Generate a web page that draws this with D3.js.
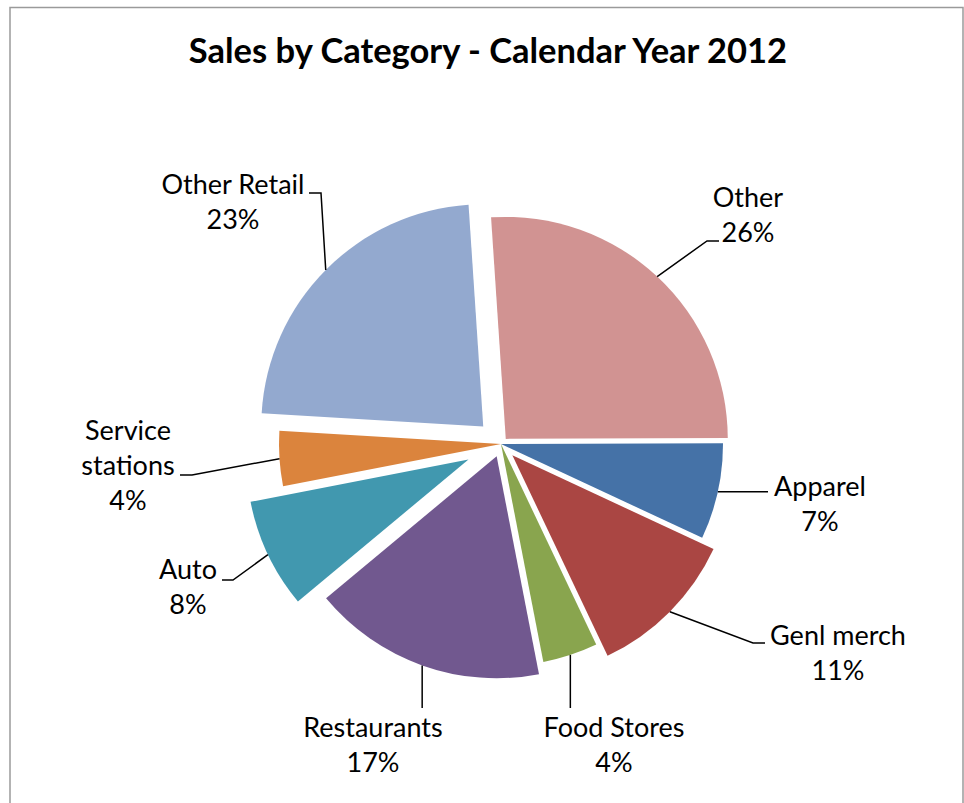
<!DOCTYPE html>
<html>
<head>
<meta charset="utf-8">
<script src="https://cdn.jsdelivr.net/npm/d3@7/dist/d3.min.js"></script>
<style>
  html, body { margin: 0; padding: 0; background: #fff; }
  svg { display: block; }
  text { font-family: Lato, "Open Sans", sans-serif; fill: #000; }
</style>
</head>
<body>
<svg id="chart" width="964" height="803"></svg>
<script>
// Sales share by category, calendar year 2012 (percent of total)
const categories = ["Other", "Apparel", "Genl merch", "Food Stores", "Restaurants", "Auto", "Service stations", "Other Retail"];
const shares = [26, 7, 11, 4, 17, 8, 4, 23];
const labelLines = [["Other"], ["Apparel"], ["Genl merch"], ["Food Stores"], ["Restaurants"], ["Auto"], ["Service", "stations"], ["Other Retail"]];
const title = "Sales by Category - Calendar Year 2012";

// Styling and layout
const colors = ["#D19392", "#4572A7", "#AA4643", "#89A54E", "#71588F", "#4198AF", "#DB843D", "#93A9CF"];
const explodePx = [7, 0, 16, 0, 13, 36, 0, 25];     // offset of each slice along its bisector
const labelPos = [                                   // text centre x, first baseline y
  [748, 207], [820, 496], [838, 645], [614, 737],
  [373, 737], [188, 579], [128, 440], [233, 194]
];
// leader line points after the slice's outer-arc midpoint; "v" = drop vertically to y
const leaders = [
  [[707, 241], [719, 241]],
  [[768, null]],
  [[753, 643], [765, 643]],
  ["v", 708],
  ["v", 708],
  [[233, 580], [222, 580]],
  [[192, 475], [180, 475]],
  [[321, 193], [309, 193]]
];

const W = 964, H = 803;
const cx = 501, cy = 444, R = 222;
const startDeg = -3.8;
const labelFont = 27, lineGap = 35;

const svg = d3.select("#chart");

// Chart frame
svg.append("path")
  .attr("d", `M10,${H + 2} L10,7.5 L963,7.5 L963,${H + 2}`)
  .attr("fill", "none")
  .attr("stroke", "#9a9a9a")
  .attr("stroke-width", 1.5);

svg.append("text")
  .attr("x", 488).attr("y", 63)
  .attr("text-anchor", "middle")
  .attr("font-size", 34.5)
  .attr("font-weight", 700)
  .text(title);

const start = startDeg * Math.PI / 180;
const pie = d3.pie().sort(null).value(d => d)
  .startAngle(start).endAngle(start + 2 * Math.PI);
const arcs = pie(shares);
const arc = d3.arc().innerRadius(0).outerRadius(R);

const g = svg.append("g").attr("transform", `translate(${cx},${cy})`);

arcs.forEach((a, i) => {
  const mid = (a.startAngle + a.endAngle) / 2;
  const ox = explodePx[i] * Math.sin(mid), oy = -explodePx[i] * Math.cos(mid);
  a.ox = ox; a.oy = oy; a.mid = mid;
  g.append("path")
    .attr("d", arc(a))
    .attr("transform", `translate(${ox},${oy})`)
    .attr("fill", colors[i]);
});

// Leader lines
const line = d3.line();
arcs.forEach((a, i) => {
  const px = cx + a.ox + R * Math.sin(a.mid);
  const py = cy + a.oy - R * Math.cos(a.mid);
  const spec = leaders[i];
  let pts = [[px, py]];
  if (spec[0] === "v") {
    pts.push([px, spec[1]]);
  } else {
    spec.forEach(p => pts.push([p[0], p[1] === null ? py : p[1]]));
  }
  svg.append("path")
    .attr("d", line(pts))
    .attr("fill", "none")
    .attr("stroke", "#000")
    .attr("stroke-width", 1.5);
});

// Data labels: category name then percentage
categories.forEach((c, i) => {
  const lines = labelLines[i].concat([shares[i] + "%"]);
  const t = svg.append("text")
    .attr("text-anchor", "middle")
    .attr("font-size", labelFont);
  lines.forEach((s, k) => {
    t.append("tspan")
      .attr("x", labelPos[i][0])
      .attr("y", labelPos[i][1] + k * lineGap)
      .text(s);
  });
});
</script>
</body>
</html>
